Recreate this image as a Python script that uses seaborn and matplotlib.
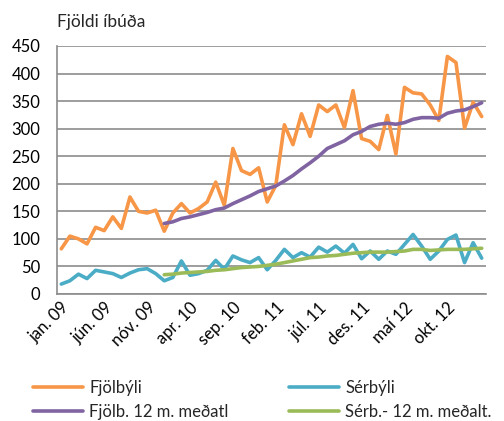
import matplotlib
matplotlib.use('Agg')
import matplotlib.pyplot as plt
import numpy as np
import pandas as pd
import seaborn as sns

# monthly values, jan. 09 - feb. 13
fjolbyli = [82, 105, 100, 91, 121, 115, 140, 119, 176, 150, 147, 152,
            114, 147, 164, 147, 155, 167, 203, 161, 264, 224, 217, 229,
            167, 197, 307, 271, 327, 286, 343, 331, 343, 302, 369, 282,
            277, 262, 324, 254, 375, 365, 363, 343, 315, 431, 420, 301,
            348, 322]
serbyli = [18, 24, 36, 28, 43, 40, 37, 30, 38, 44, 46, 37,
           24, 30, 60, 34, 37, 43, 61, 45, 69, 62, 57, 66,
           44, 61, 81, 66, 75, 67, 85, 76, 87, 74, 90, 64,
           78, 63, 78, 72, 90, 108, 87, 63, 78, 99, 107, 57,
           93, 65]
# 12 month averages, from jan. 10
fjolb_avg = [128, 131, 137, 140, 144, 148, 153, 156, 164, 171, 178, 186,
             191, 196, 205, 215, 227, 238, 250, 264, 271, 278, 289, 295,
             304, 308, 310, 308, 311, 317, 320, 320, 319, 328, 332, 334,
             340, 347]
serb_avg = [35, 36, 38, 39, 40, 41, 43, 44, 46, 48, 49, 50,
            52, 54, 57, 60, 63, 66, 67, 69, 70, 72, 74, 75,
            76, 76, 76, 77, 78, 81, 81, 79, 80, 81, 81, 81,
            82, 83]
avg_start = 12

tick_labels = ['jan. 09', 'jún. 09', 'nóv. 09', 'apr. 10', 'sep. 10',
               'feb. 11', 'júl. 11', 'des. 11', 'maí 12', 'okt. 12']

months = np.arange(len(fjolbyli))
avg_months = np.arange(avg_start, avg_start + len(fjolb_avg))

sns.set_style('white')
plt.rcParams['font.family'] = ['Lato', 'DejaVu Sans']

fig = plt.figure(figsize=(5.04, 4.21), dpi=100)
ax = fig.add_axes([57 / 504, 1 - 294 / 421, 429 / 504, 248 / 421])

lw = 2.6
sns.lineplot(x=months, y=fjolbyli, ax=ax, color='#F79646', lw=lw, label='Fjölbýli')
sns.lineplot(x=months, y=serbyli, ax=ax, color='#4BACC6', lw=lw, label='Sérbýli')
sns.lineplot(x=avg_months, y=fjolb_avg, ax=ax, color='#8064A2', lw=lw, label='Fjölb. 12 m. meðatl')
sns.lineplot(x=avg_months, y=serb_avg, ax=ax, color='#9BBB59', lw=lw, label='Sérb.- 12 m. meðalt.')

ax.set_xlim(-0.5, len(fjolbyli) - 0.5)
ax.set_ylim(0, 450)
ax.set_yticks(range(0, 451, 50))
ax.yaxis.grid(True, color='#8c8c8c', lw=1.2)
ax.set_axisbelow(True)
ax.set_xticks(range(0, 46, 5))
ax.set_xticklabels(tick_labels, rotation=45, ha='right', rotation_mode='anchor')
ax.tick_params(axis='both', labelsize=12, length=0, colors='black')
ax.tick_params(axis='y', pad=12)
ax.tick_params(axis='x', pad=4)
for side in ['top', 'right']:
    ax.spines[side].set_visible(False)
for side in ['left', 'bottom']:
    ax.spines[side].set_color('#8c8c8c')
    ax.spines[side].set_linewidth(1.2)

fig.text(57 / 504, 1 - 22 / 421, 'Fjöldi íbúða', fontsize=12.5, va='center', ha='left')

handles, labels = ax.get_legend_handles_labels()
order = [0, 2, 1, 3]
ax.legend([handles[i] for i in order], [labels[i] for i in order],
          ncol=2, loc='upper left', bbox_to_anchor=(-0.092, -0.287),
          frameon=False, fontsize=12, handlelength=3.0, handletextpad=0.4,
          columnspacing=3.6, labelspacing=0.45, borderpad=0.4)

fig.savefig('out.png', dpi=100)
